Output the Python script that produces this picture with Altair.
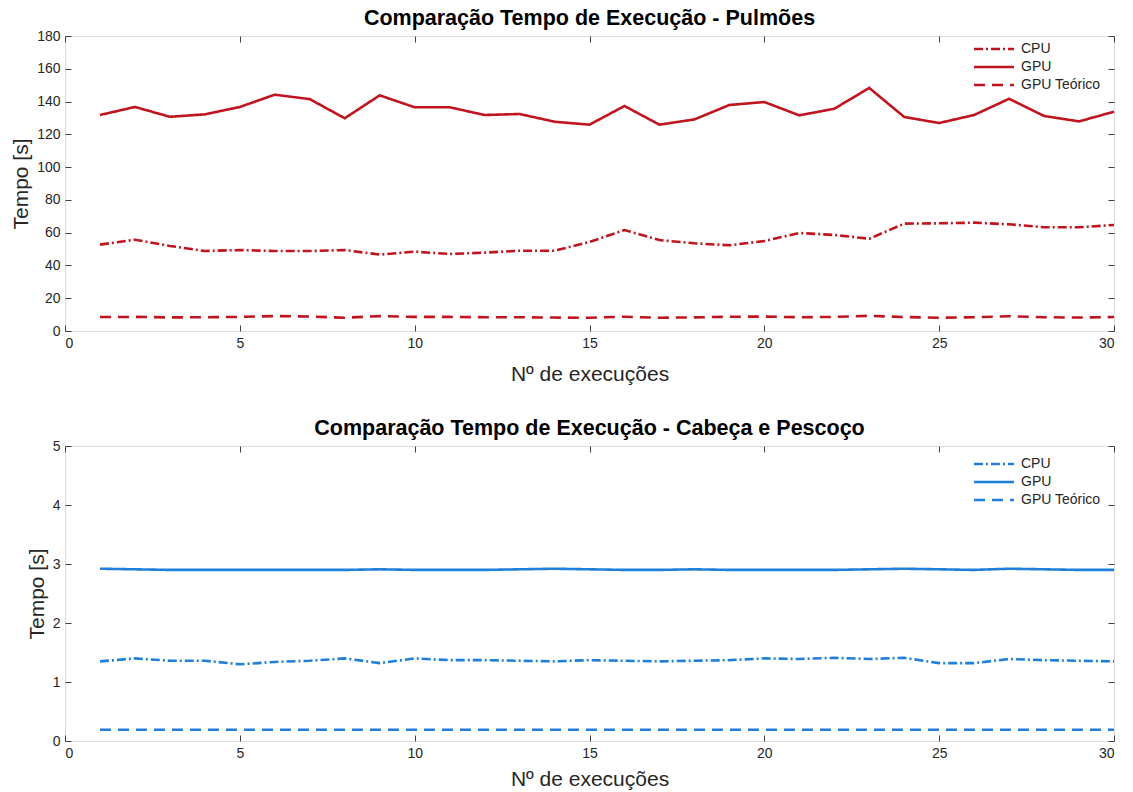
import altair as alt
import pandas as pd

# Execution index
runs = list(range(1, 31))

# Lungs (Pulmões) execution times in seconds
pulm_cpu = [52.7, 55.7, 51.9, 48.8, 49.4, 48.8, 48.8, 49.4, 46.6, 48.4,
            47.0, 47.8, 49.0, 49.0, 54.3, 61.6, 55.5, 53.5, 52.3, 54.9,
            59.8, 58.6, 56.3, 65.5, 65.7, 66.1, 65.1, 63.3, 63.3, 64.7]
pulm_gpu = [131.8, 136.7, 130.7, 132.2, 136.7, 144.2, 141.5, 129.8, 143.8, 136.5,
            136.5, 131.8, 132.4, 127.7, 125.9, 137.3, 125.9, 129.1, 137.9, 139.7,
            131.6, 135.6, 148.3, 130.6, 126.9, 131.8, 141.7, 131.2, 127.9, 133.8]
pulm_teo = [8.5, 8.6, 8.3, 8.4, 8.6, 9.1, 8.8, 8.1, 9.1, 8.6,
            8.6, 8.4, 8.4, 8.2, 8.1, 8.7, 8.1, 8.3, 8.7, 8.8,
            8.4, 8.6, 9.3, 8.5, 8.1, 8.4, 9.0, 8.4, 8.2, 8.5]

# Head and neck (Cabeça e Pescoço) execution times in seconds
cab_cpu = [1.35, 1.40, 1.36, 1.36, 1.30, 1.34, 1.36, 1.40, 1.32, 1.40,
           1.37, 1.37, 1.36, 1.35, 1.37, 1.36, 1.35, 1.36, 1.37, 1.40,
           1.39, 1.41, 1.39, 1.41, 1.32, 1.32, 1.39, 1.37, 1.36, 1.35]
cab_gpu = [2.92, 2.91, 2.90, 2.90, 2.90, 2.90, 2.90, 2.90, 2.91, 2.90,
           2.90, 2.90, 2.91, 2.92, 2.91, 2.90, 2.90, 2.91, 2.90, 2.90,
           2.90, 2.90, 2.91, 2.92, 2.91, 2.90, 2.92, 2.91, 2.90, 2.90]
cab_teo = [0.19, 0.19, 0.19, 0.19, 0.19, 0.19, 0.19, 0.19, 0.19, 0.19,
           0.19, 0.19, 0.19, 0.19, 0.19, 0.19, 0.19, 0.19, 0.19, 0.19,
           0.19, 0.19, 0.19, 0.19, 0.19, 0.19, 0.19, 0.19, 0.19, 0.19]

series = ["CPU", "GPU", "GPU Teórico"]
x_ticks = [0, 5, 10, 15, 20, 25, 30]
top_ticks = [0, 20, 40, 60, 80, 100, 120, 140, 160, 180]
bottom_ticks = [0, 1, 2, 3, 4, 5]

W, H = 1049, 295
FONT = "Liberation Sans"
TXT = "#262626"
FRAME = "#404040"


def long_table(cpu, gpu, teo):
    rows = []
    for name, vals in zip(series, [cpu, gpu, teo]):
        for r, v in zip(runs, vals):
            rows.append({"run": r, "t": v, "serie": name})
    return pd.DataFrame(rows)


def panel(df, title, ymax, yticks, color, xtitle_pad, legend_y):
    xs = alt.Scale(domain=[0, 30], nice=False, zero=False)
    ys = alt.Scale(domain=[0, ymax], nice=False)
    dash = alt.Scale(domain=series, range=[[9, 3, 2, 3], [1, 0], [11, 7]])

    lines = alt.Chart(df).mark_line(strokeWidth=2.6, color=color).encode(
        x=alt.X("run:Q", scale=xs,
                axis=alt.Axis(values=x_ticks, title="Nº de execuções", ticks=False,
                              domain=False, grid=False, labelPadding=5,
                              labelFontSize=14, titleFontSize=21,
                              titlePadding=xtitle_pad,
                              labelColor=TXT, titleColor=TXT, titleFontWeight="normal",
                              labelFont=FONT, titleFont=FONT)),
        y=alt.Y("t:Q", scale=ys,
                axis=alt.Axis(values=yticks, title="Tempo [s]", ticks=False,
                              domain=False, grid=False, labelPadding=5,
                              labelFontSize=14, titleFontSize=21, titlePadding=5,
                              labelColor=TXT, titleColor=TXT, titleFontWeight="normal",
                              labelFont=FONT, titleFont=FONT)),
        strokeDash=alt.StrokeDash("serie:N", scale=dash, sort=series,
                                  legend=alt.Legend(title=None, orient="none",
                                                    legendX=922, legendY=legend_y,
                                                    symbolType="M-4,0H4", symbolSize=100,
                                                    symbolStrokeWidth=2.6,
                                                    symbolStrokeColor=color,
                                                    labelFontSize=14, labelColor=TXT,
                                                    labelFont=FONT, rowPadding=4,
                                                    labelOffset=20)),
    )

    tick_kw = dict(labels=False, domain=False, grid=False, title=None,
                   tickSize=6, tickColor=FRAME, tickWidth=1)
    inner_a = alt.Chart(df).mark_line(opacity=0).encode(
        x=alt.X("run:Q", scale=xs, axis=alt.Axis(values=x_ticks, orient="top",
                                                 offset=-H, **tick_kw)),
        y=alt.Y("t:Q", scale=ys, axis=alt.Axis(values=yticks, orient="right",
                                               offset=-W, **tick_kw)),
    )
    inner_b = alt.Chart(df).mark_line(opacity=0).encode(
        x=alt.X("run:Q", scale=xs, axis=alt.Axis(values=x_ticks, orient="bottom",
                                                 offset=-H, **tick_kw)),
        y=alt.Y("t:Q", scale=ys, axis=alt.Axis(values=yticks, orient="left",
                                               offset=-W, **tick_kw)),
    )

    return alt.layer(lines, inner_a, inner_b).resolve_axis(
        x="independent", y="independent"
    ).properties(
        width=W, height=H,
        title=alt.TitleParams(title, fontSize=21.5, fontWeight="bold", font=FONT,
                              color="#000000", offset=0, anchor="middle"),
    )


top = panel(long_table(pulm_cpu, pulm_gpu, pulm_teo),
            "Comparação Tempo de Execução - Pulmões", 180, top_ticks, "#C0141E", 13, 6)
bottom = panel(long_table(cab_cpu, cab_gpu, cab_teo),
               "Comparação Tempo de Execução - Cabeça e Pescoço", 5, bottom_ticks,
               "#1F7FD9", 8, 11)

chart = alt.vconcat(top, bottom, spacing=32).resolve_scale(
    strokeDash="independent"
).resolve_legend(
    strokeDash="independent"
).properties(
    padding={"left": 10, "top": 7, "right": 8, "bottom": 0}
).configure_view(stroke=FRAME, strokeWidth=1.2).configure(background="white")

chart.save("out.html", embed_options={"renderer": "svg", "actions": False})
